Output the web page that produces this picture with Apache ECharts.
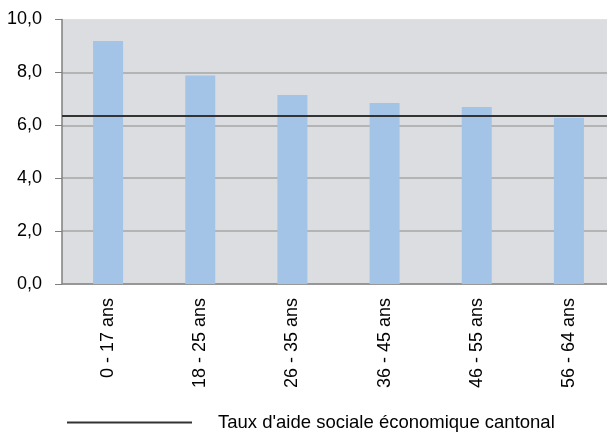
<!DOCTYPE html>
<html><head><meta charset="utf-8">
<script src="https://cdn.jsdelivr.net/npm/echarts@6/dist/echarts.min.js"></script>
<style>html,body{margin:0;padding:0;background:#fff;overflow:hidden}#c{width:615px;height:432px}</style>
</head><body><div id="c"></div>
<script>
const categories = ['0 - 17 ans','18 - 25 ans','26 - 35 ans','36 - 45 ans','46 - 55 ans','56 - 64 ans'];
const rates = [9.19, 7.88, 7.15, 6.84, 6.69, 6.29];
const cantonalRate = 6.35;
const cantonalName = "Taux d'aide sociale économique cantonal";
const yTicks = {min: 0, max: 10, interval: 2};

const bg = '#dcdde0', grid = '#a6a6a6';
const chart = echarts.init(document.getElementById('c'), null, {renderer: 'canvas'});
chart.setOption({
  animation: false,
  textStyle: {fontFamily: 'Liberation Sans, Arial, sans-serif'},
  grid: {left: 62, right: 0, top: 19.5, bottom: 148, backgroundColor: bg, show: true, borderWidth: 0},
  legend: {
    top: 408, left: 62, itemWidth: 125, itemHeight: 2, itemGap: 10, icon: 'rect',
    data: [{name: cantonalName, itemStyle: {color: '#333'}}],
    textStyle: {fontSize: 18.5, color: '#000', padding: [0, 0, 0, 21]}
  },
  xAxis: {
    type: 'category', data: categories,
    axisLine: {lineStyle: {color: '#8c8c8c', width: 1.5}},
    axisTick: {show: false},
    axisLabel: {rotate: 90, fontSize: 18, color: '#000', margin: 14}
  },
  yAxis: {
    type: 'value', min: yTicks.min, max: yTicks.max, interval: yTicks.interval,
    axisLine: {show: true, lineStyle: {color: '#7f7f7f', width: 1.5}},
    axisTick: {show: true, length: 7, lineStyle: {color: '#7f7f7f'}},
    splitLine: {lineStyle: {color: [grid, grid, grid, grid, grid, bg], width: 1.5}},
    axisLabel: {fontSize: 18, color: '#000', margin: 20, formatter: v => v.toFixed(1).replace('.', ',')}
  },
  series: [
    {type: 'bar', data: rates, barWidth: 30, itemStyle: {color: '#a3c4e6'}, z: 2},
    {type: 'line', name: cantonalName, data: [], symbol: 'none', lineStyle: {color: '#333'},
     markLine: {silent: true, symbol: 'none', label: {show: false},
       lineStyle: {color: '#333', width: 2, type: 'solid'},
       data: [{yAxis: cantonalRate}]}, z: 3}
  ]
});
</script></body></html>
